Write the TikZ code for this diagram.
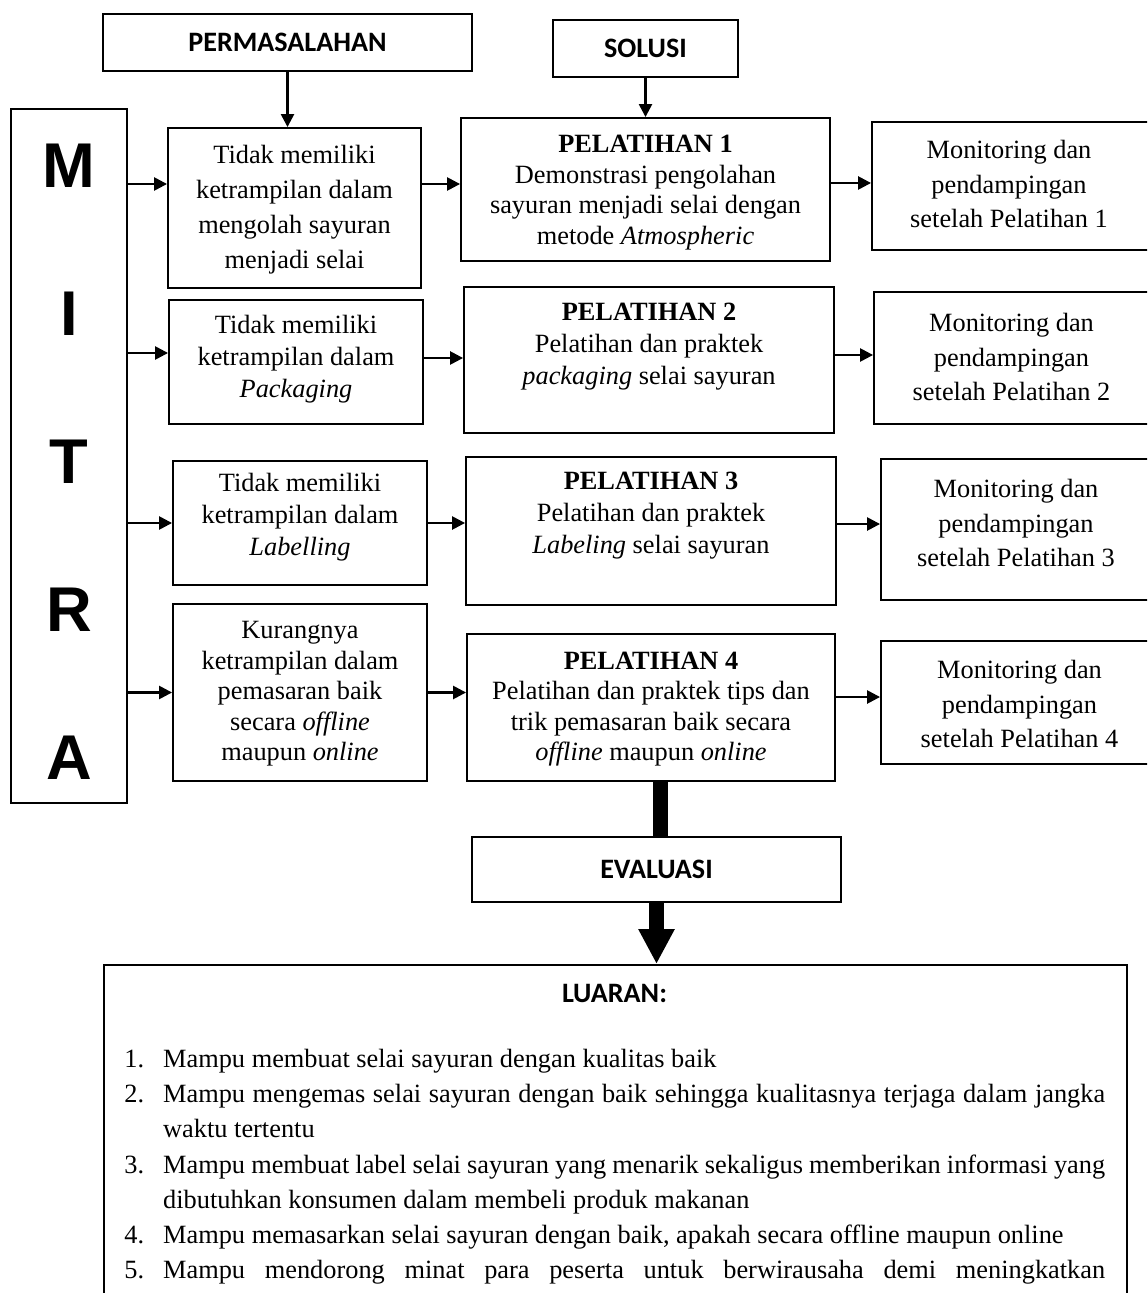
\documentclass[tikz,border=0pt]{standalone}
\usepackage{fontspec}
\setmainfont{Liberation Serif}
\newfontfamily\hdfont{Carlito}
\newfontfamily\ltrfont{Liberation Sans}
\usepackage{tikz}
\usetikzlibrary{positioning,arrows.meta}
\newcommand{\outitem}[2]{\noindent\hangindent=22.1pt\hangafter=1\makebox[22.1pt][l]{#1}#2\par}
\tikzset{
  bx/.style={draw,line width=1.1pt,inner sep=0pt},
  hdr/.style={font=\hdfont\bfseries\fontsize{16}{19}\selectfont},
  ltr/.style={font=\ltrfont\bfseries\fontsize{36}{40}\selectfont,inner sep=0pt},
  txt/.style={align=center,inner sep=0pt,font=\fontsize{15}{#1}\selectfont},
  txt/.default=17.4,
  lst/.style={anchor=north west,inner sep=0pt,text width=19.62cm,align=justify,
    font=\fontsize{15}{20}\selectfont},
  arr/.style={-{Triangle[length=2.6mm,width=2.6mm]},line width=1.4pt},
  thk/.style={line width=8pt},                                   % bar down to evaluation
  bigarr/.style={-{Triangle[length=7mm,width=6.8mm]},line width=8pt}, % arrow to outputs
}
\begin{document}
\begin{tikzpicture}[x=0.02cm,y=-0.02cm]
  \useasboundingbox (0,0) rectangle (1147,1293);
  \clip (0,0) rectangle (1147,1293);
  % headings
  \node[bx,hdr,minimum width=7.38cm,minimum height=1.14cm] (perm) at (287.5,42.5) {PERMASALAHAN};
  \node[bx,hdr,minimum width=3.70cm,minimum height=1.14cm] (sol) at (645.5,48.5) {SOLUSI};
  % partner column
  \node[bx,minimum width=2.32cm,minimum height=13.88cm] (mitra) at (69,456) {};
  \node[ltr] (ltr1) at (69,166) {M};
  \node[ltr] (ltr2) at (69,314) {I};
  \node[ltr] (ltr3) at (69,462) {T};
  \node[ltr] (ltr4) at (69,610) {R};
  \node[ltr] (ltr5) at (69,758) {A};
  % problems
  \node[bx,minimum width=5.06cm,minimum height=3.20cm] (p1) at (294.5,208) {};
  \node[bx,minimum width=5.08cm,minimum height=2.48cm] (p2) at (296,362) {};
  \node[bx,minimum width=5.08cm,minimum height=2.48cm] (p3) at (300,523) {};
  \node[bx,minimum width=5.08cm,minimum height=3.54cm] (p4) at (300,692.5) {};
  \node[txt=19.8] (p1t) at (294.5,209.5) {Tidak memiliki\\ketrampilan dalam\\mengolah sayuran\\menjadi selai};
  \node[txt=18.2] (p2t) at (296,359) {Tidak memiliki\\ketrampilan dalam\\\textit{Packaging}};
  \node[txt=18.2] (p3t) at (300,517.5) {Tidak memiliki\\ketrampilan dalam\\\textit{Labelling}};
  \node[txt] (p4t) at (300,694) {Kurangnya\\ketrampilan dalam\\pemasaran baik\\secara \textit{offline}\\maupun \textit{online}};
  % solutions
  \node[bx,minimum width=7.38cm,minimum height=2.86cm] (s1) at (645.5,189.5) {};
  \node[bx,minimum width=7.40cm,minimum height=2.92cm] (s2) at (649,360) {};
  \node[bx,minimum width=7.40cm,minimum height=2.96cm] (s3) at (651,531) {};
  \node[bx,minimum width=7.36cm,minimum height=2.94cm] (s4) at (651,707.5) {};
  \node[txt] (s1t) at (645.5,192.5) {\textbf{PELATIHAN 1}\\Demonstrasi pengolahan\\sayuran menjadi selai dengan\\metode \textit{Atmospheric}};
  \node[txt=18.2] (s2t) at (649,346.5) {\textbf{PELATIHAN 2}\\Pelatihan dan praktek\\\textit{packaging} selai sayuran};
  \node[txt=18.4] (s3t) at (651,515.5) {\textbf{PELATIHAN 3}\\Pelatihan dan praktek\\\textit{Labeling} selai sayuran};
  \node[txt] (s4t) at (651,709) {\textbf{PELATIHAN 4}\\Pelatihan dan praktek tips dan\\trik pemasaran baik secara\\\textit{offline} maupun \textit{online}};
  % monitoring
  \node[bx,minimum width=5.60cm,minimum height=2.56cm] (mon1) at (1012,186) {};
  \node[bx,minimum width=5.56cm,minimum height=2.64cm] (mon2) at (1013,358) {};
  \node[bx,minimum width=5.42cm,minimum height=2.82cm] (mon3) at (1016.5,529.5) {};
  \node[bx,minimum width=5.42cm,minimum height=2.46cm] (mon4) at (1016.5,702.5) {};
  \node[txt=19.8] (mon1t) at (1009,184) {Monitoring dan\\pendampingan\\setelah Pelatihan 1};
  \node[txt=19.8] (mon2t) at (1011.5,357) {Monitoring dan\\pendampingan\\setelah Pelatihan 2};
  \node[txt=19.8] (mon3t) at (1016,523) {Monitoring dan\\pendampingan\\setelah Pelatihan 3};
  \node[txt=19.8] (mon4t) at (1019.5,704) {Monitoring dan\\pendampingan\\setelah Pelatihan 4};
  % evaluation and outputs
  \node[bx,hdr,minimum width=7.38cm,minimum height=1.30cm] (eval) at (656.5,869.5) {EVALUASI};
  \node[bx,minimum width=20.46cm,minimum height=8cm,anchor=north] (luar) at (615.5,964) {};
  \node[hdr] (luart) at (614.5,993) {LUARAN:};
  \node[lst] (list) at (124,1049) {\hyphenpenalty=10000 \tolerance=9999
    \outitem{1.}{Mampu membuat selai sayuran dengan kualitas baik}
    \outitem{2.}{Mampu mengemas selai sayuran dengan baik sehingga kualitasnya terjaga dalam jangka waktu tertentu}
    \outitem{3.}{Mampu membuat label selai sayuran yang menarik sekaligus memberikan informasi yang dibutuhkan konsumen dalam membeli produk makanan}
    \outitem{4.}{Mampu memasarkan selai sayuran dengan baik, apakah secara offline maupun online}
    {\parfillskip=0pt \outitem{5.}{Mampu mendorong minat para peserta untuk berwirausaha demi meningkatkan}}};
  % arrows
  \draw[arr] (perm.south) -- (perm.south |- p1.north);
  \draw[arr] (sol.south) -- (s1.north);
  \draw[arr] ([yshift=0.48cm]p1.west -| mitra.east) -- ([yshift=0.48cm]p1.west);
  \draw[arr] ([yshift=0.18cm]p2.west -| mitra.east) -- ([yshift=0.18cm]p2.west);
  \draw[arr] (p3.west -| mitra.east) -- (p3.west);
  \draw[arr] (p4.west -| mitra.east) -- (p4.west);
  \draw[arr] ([yshift=0.48cm]p1.east) -- ([yshift=0.48cm]p1.east -| s1.west);
  \draw[arr] ([yshift=0.08cm]p2.east) -- ([yshift=0.08cm]p2.east -| s2.west);
  \draw[arr] (p3.east) -- (p3.east -| s3.west);
  \draw[arr] (p4.east) -- (p4.east -| s4.west);
  \draw[arr] ([yshift=0.13cm]s1.east) -- ([yshift=0.13cm]s1.east -| mon1.west);
  \draw[arr] ([yshift=0.10cm]s2.east) -- ([yshift=0.10cm]s2.east -| mon2.west);
  \draw[arr] ([yshift=0.14cm]s3.east) -- ([yshift=0.14cm]s3.east -| mon3.west);
  \draw[arr] ([yshift=0.21cm]s4.east) -- ([yshift=0.21cm]s4.east -| mon4.west);
  \draw[thk] ([xshift=0.19cm]s4.south) -- ([xshift=0.19cm]s4.south |- eval.north);
  \draw[bigarr] (eval.south) -- (eval.south |- luar.north);
\end{tikzpicture}
\end{document}
